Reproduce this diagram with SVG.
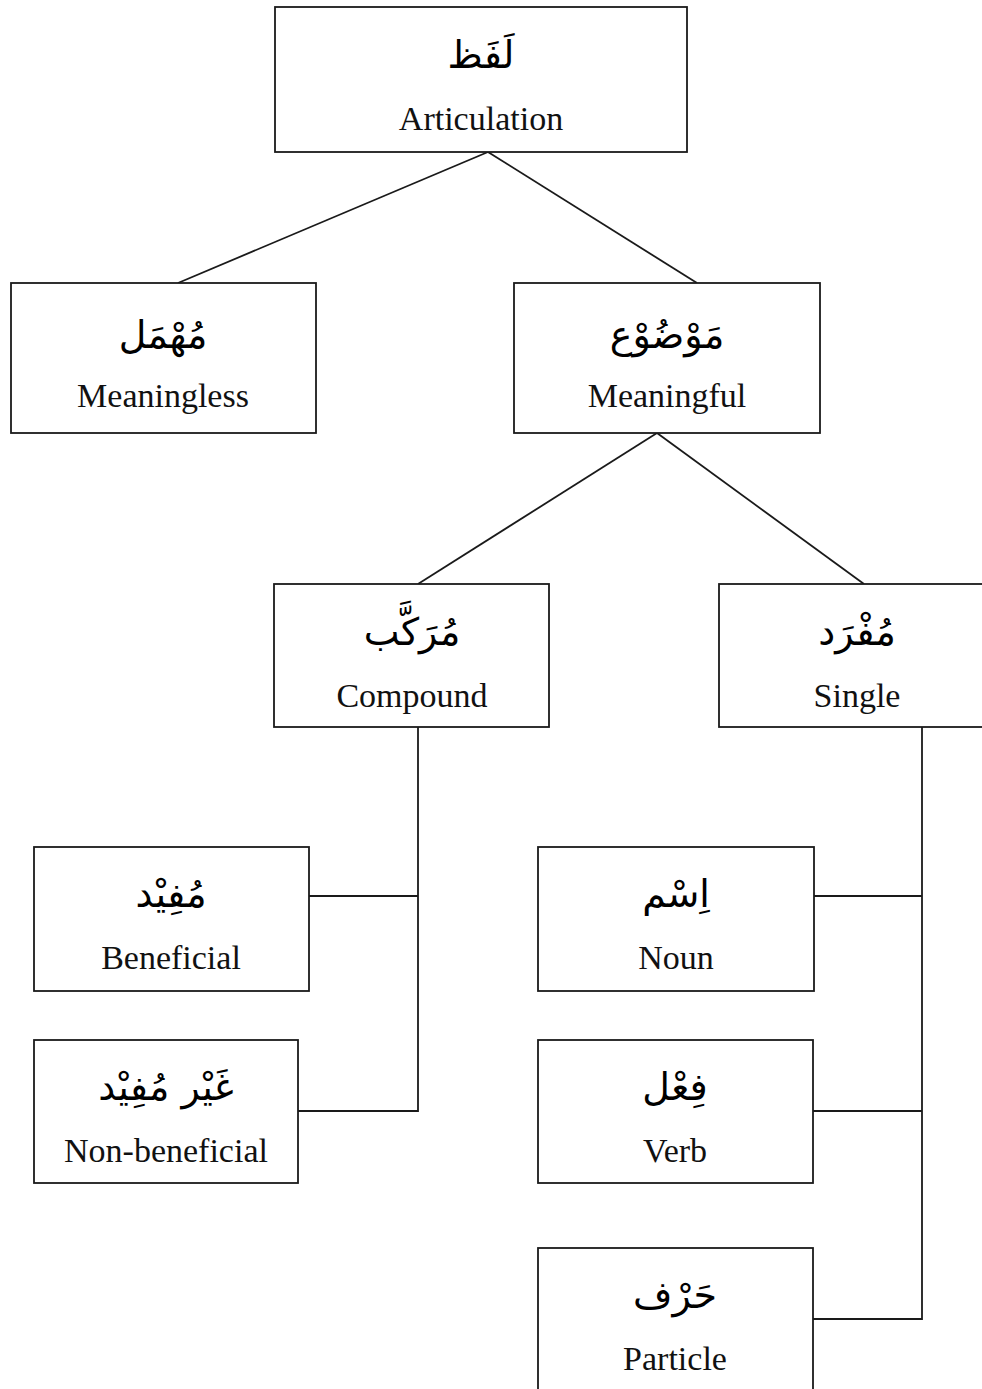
<svg xmlns="http://www.w3.org/2000/svg" width="982" height="1389" viewBox="0 0 982 1389">
<style>
.box{fill:#fff;stroke:#1a1a1a;stroke-width:1.8}
.ar{font-family:"DejaVu Sans","Noto Sans",sans-serif;font-size:38px;fill:#000;text-anchor:middle}
.en{font-family:"Liberation Serif",serif;font-size:34px;fill:#111;text-anchor:middle}
.ln{stroke:#1a1a1a;stroke-width:1.8;fill:none}
</style>
<rect width="982" height="1389" fill="#fff"/>
<g id="connectors">
<line class="ln" x1="488" y1="152" x2="178" y2="283"/>
<line class="ln" x1="488" y1="152" x2="697" y2="283"/>
<line class="ln" x1="657" y1="433" x2="418" y2="584"/>
<line class="ln" x1="657" y1="433" x2="864" y2="584"/>
<polyline class="ln" points="418,727 418,1111 298,1111"/>
<line class="ln" x1="309" y1="896" x2="418" y2="896"/>
<polyline class="ln" points="922,727 922,1319 813,1319"/>
<line class="ln" x1="814" y1="896" x2="922" y2="896"/>
<line class="ln" x1="813" y1="1111" x2="922" y2="1111"/>
</g>
<g id="n-lafz">
<rect class="box" x="275" y="7" width="412" height="145"/>
<text class="ar" x="481" y="68" direction="rtl">لَفَظ</text>
<text class="en" x="481" y="130">Articulation</text>
</g>
<g id="n-muhmal">
<rect class="box" x="11" y="283" width="305" height="150"/>
<text class="ar" x="163" y="348" direction="rtl">مُهْمَل</text>
<text class="en" x="163" y="407">Meaningless</text>
</g>
<g id="n-mawdu">
<rect class="box" x="514" y="283" width="306" height="150"/>
<text class="ar" x="667" y="348" direction="rtl">مَوْضُوْع</text>
<text class="en" x="667" y="407">Meaningful</text>
</g>
<g id="n-murakkab">
<rect class="box" x="274" y="584" width="275" height="143"/>
<text class="ar" x="412" y="645" direction="rtl">مُرَكَّب</text>
<text class="en" x="412" y="707">Compound</text>
</g>
<g id="n-mufrad">
<rect class="box" x="719" y="584" width="276" height="143"/>
<text class="ar" x="857" y="645" direction="rtl">مُفْرَد</text>
<text class="en" x="857" y="707">Single</text>
</g>
<g id="n-mufid">
<rect class="box" x="34" y="847" width="275" height="144"/>
<text class="ar" x="171" y="907" direction="rtl">مُفِيْد</text>
<text class="en" x="171" y="969">Beneficial</text>
</g>
<g id="n-ghayr-mufid">
<rect class="box" x="34" y="1040" width="264" height="143"/>
<text class="ar" x="166" y="1100" direction="rtl">غَيْر مُفِيْد</text>
<text class="en" x="166" y="1162">Non-beneficial</text>
</g>
<g id="n-ism">
<rect class="box" x="538" y="847" width="276" height="144"/>
<text class="ar" x="676" y="907" direction="rtl">اِسْم</text>
<text class="en" x="676" y="969">Noun</text>
</g>
<g id="n-fil">
<rect class="box" x="538" y="1040" width="275" height="143"/>
<text class="ar" x="675" y="1100" direction="rtl">فِعْل</text>
<text class="en" x="675" y="1162">Verb</text>
</g>
<g id="n-harf">
<rect class="box" x="538" y="1248" width="275" height="150"/>
<text class="ar" x="675" y="1308" direction="rtl">حَرْف</text>
<text class="en" x="675" y="1370">Particle</text>
</g>
</svg>
